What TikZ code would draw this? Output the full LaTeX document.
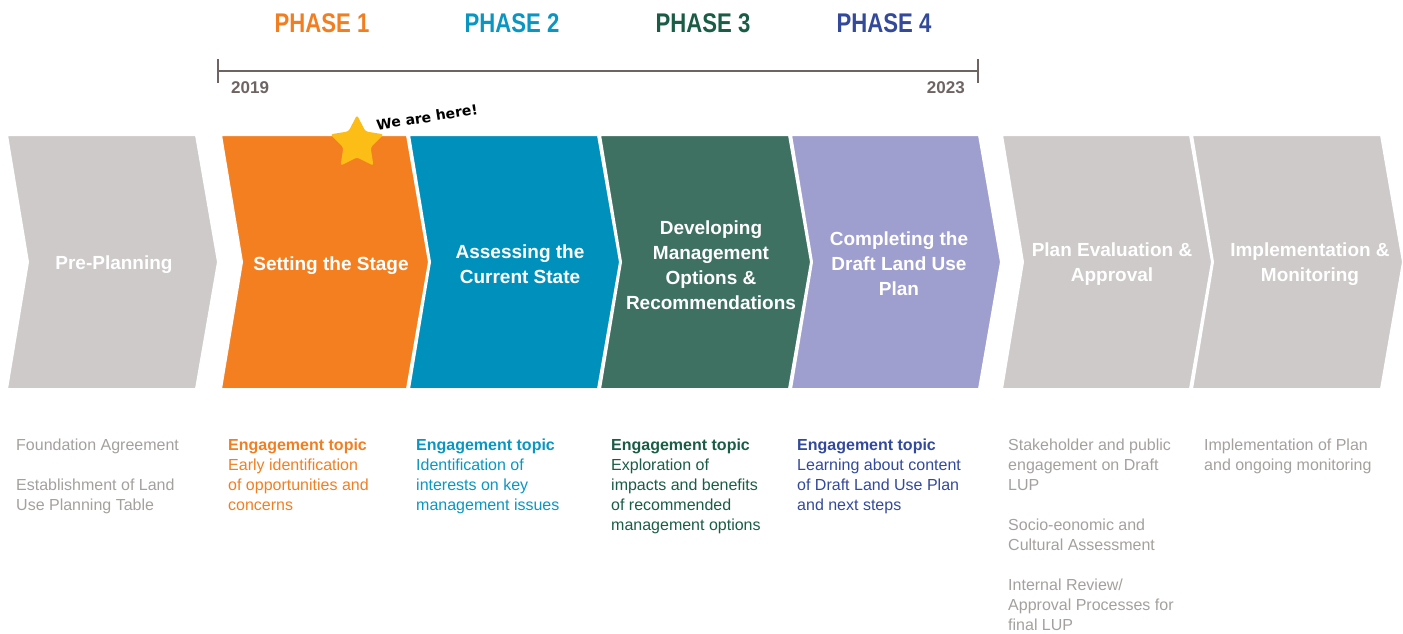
\documentclass[tikz,border=0pt]{standalone}
\usepackage{fontspec}
\setmainfont{Liberation Sans}
\newfontfamily\phasefont{Liberation Sans}[FakeStretch=0.82]
\newfontfamily\handfont{DejaVu Sans}
\usetikzlibrary{shapes.geometric}
\definecolor{cOrange}{HTML}{F47F20}
\definecolor{cBlue}{HTML}{0090BC}
\definecolor{cGreen}{HTML}{3F7163}
\definecolor{cPurple}{HTML}{9E9ECF}
\definecolor{cGray}{HTML}{CDCAC9}
\definecolor{tOrange}{HTML}{F27E22}
\definecolor{tBlue}{HTML}{0A96C2}
\definecolor{tGreen}{HTML}{1B5C47}
\definecolor{tNavy}{HTML}{33499B}
\definecolor{tGray}{HTML}{A4A09E}
\definecolor{lineGray}{HTML}{6E6563}
\definecolor{starY}{HTML}{FCBD17}
\newcommand\chevshape[3]{%
  \fill[#3, draw=white, line width=2pt, line join=miter]
    (#1,135) -- (#2,135) -- ({#2+22},262) -- (#2,389) -- (#1,389) -- ({#1+21},262) -- cycle;}
\tikzset{
  chevtext/.style={text=white, font=\fontsize{19}{25}\selectfont\bfseries, align=center, inner sep=0pt},
  bodytext/.style={anchor=north west, align=left, inner sep=0pt, font=\fontsize{16}{20}\selectfont},
  phaselabel/.style={font=\phasefont\bfseries\fontsize{27}{27}\selectfont, inner sep=0pt},
  yearlabel/.style={font=\bfseries\fontsize{17}{17}\selectfont, text=lineGray, inner sep=0pt},
  tline/.style={draw=lineGray, line width=2.5pt}
}
\begin{document}
\begin{tikzpicture}[x=1pt,y=-1pt]
\useasboundingbox (0,0) rectangle (1403,633);
% phase labels
\node[phaselabel, text=tOrange] (p1) at (322,23) {PHASE 1};
\node[phaselabel, text=tBlue]   (p2) at (512,23) {PHASE 2};
\node[phaselabel, text=tGreen]  (p3) at (703,23) {PHASE 3};
\node[phaselabel, text=tNavy]   (p4) at (884,23) {PHASE 4};
% timeline
\coordinate (tlL) at (218,71);
\coordinate (tlR) at (978,71);
\coordinate (tlLt) at (218,59);
\coordinate (tlLb) at (218,83);
\coordinate (tlRt) at (978,59);
\coordinate (tlRb) at (978,83);
\draw[tline] (tlL) -- (tlR);
\draw[tline] (tlLt) -- (tlLb);
\draw[tline] (tlRt) -- (tlRb);
\node[yearlabel, anchor=west] (y1) at (231,88) {2019};
\node[yearlabel, anchor=east] (y2) at (965,88) {2023};
% chevrons
\chevshape{7}{196}{cGray}
\chevshape{221}{407}{cOrange}
\chevshape{409}{598}{cBlue}
\chevshape{600}{789}{cGreen}
\chevshape{791}{979}{cPurple}
\chevshape{1002}{1190}{cGray}
\chevshape{1192}{1381}{cGray}
% star and note
\node[star, star points=5, star point ratio=1.95, fill=starY, minimum size=56pt, inner sep=0pt, rounded corners=2.5pt] (star) at (357,143) {};
\node[font=\handfont\bfseries\fontsize{14}{14}\selectfont, rotate=9, inner sep=0pt] (here) at (427,117) {We are here!};
% chevron texts
\node[chevtext] (c1) at (114,265) {Pre-Planning};
\node[chevtext] (c2) at (331,266) {Setting the Stage};
\node[chevtext] (c3) at (520,264) {Assessing the\\Current State};
\node[chevtext] (c4) at (711,265) {Developing\\Management\\Options \&\\Recommendations};
\node[chevtext] (c5) at (899,264) {Completing the\\Draft Land Use\\Plan};
\node[chevtext] (c6) at (1112,264) {Plan Evaluation \&\\Approval};
\node[chevtext] (c7) at (1310,264) {Implementation \&\\Monitoring};
% bottom texts
\node[bodytext, text=tGray] (b1) at (16,438) {\rule{0pt}{12pt}Foundation Agreement\\[20pt]Establishment of Land\\Use Planning Table};
\node[bodytext, text=tOrange] (b2) at (228,438) {\rule{0pt}{12pt}\textbf{Engagement topic}\\Early identification\\of opportunities and\\concerns};
\node[bodytext, text=tBlue] (b3) at (416,438) {\rule{0pt}{12pt}\textbf{Engagement topic}\\Identification of\\interests on key\\management issues};
\node[bodytext, text=tGreen] (b4) at (611,438) {\rule{0pt}{12pt}\textbf{Engagement topic}\\Exploration of\\impacts and benefits\\of recommended\\management options};
\node[bodytext, text=tNavy] (b5) at (797,438) {\rule{0pt}{12pt}\textbf{Engagement topic}\\Learning about content\\of Draft Land Use Plan\\and next steps};
\node[bodytext, text=tGray] (b6) at (1008,438) {\rule{0pt}{12pt}Stakeholder and public\\engagement on Draft\\LUP\\[20pt]Socio-eonomic and\\Cultural Assessment\\[20pt]Internal Review/\\Approval Processes for\\final LUP};
\node[bodytext, text=tGray] (b7) at (1204,438) {\rule{0pt}{12pt}Implementation of Plan\\and ongoing monitoring};
\end{tikzpicture}
\end{document}
